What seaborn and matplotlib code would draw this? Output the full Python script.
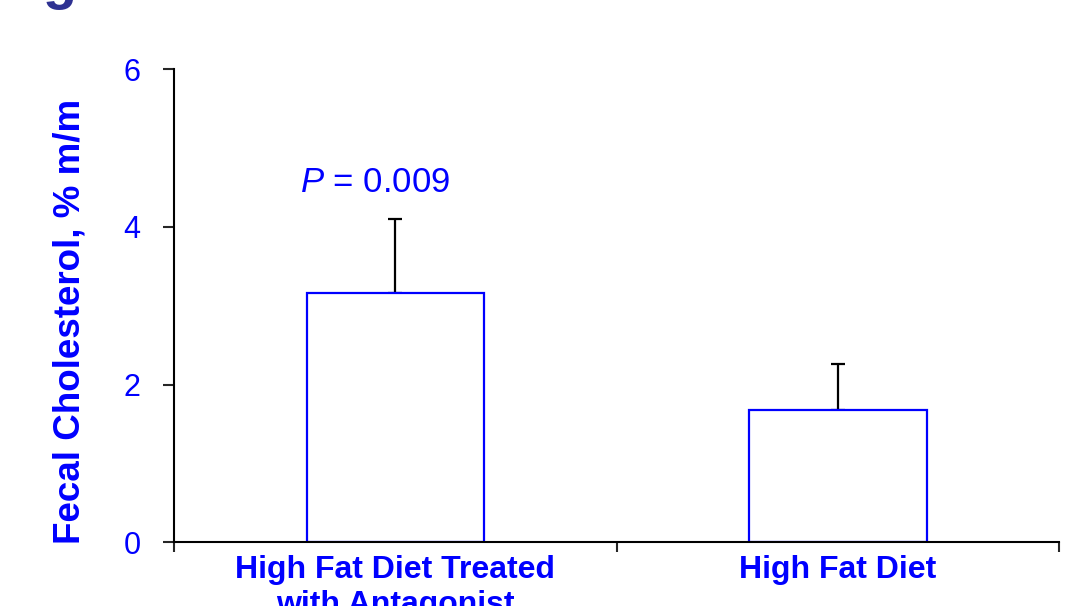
import matplotlib
matplotlib.use("Agg")
import matplotlib.pyplot as plt
import seaborn as sns
import numpy as np
import pandas as pd

groups = ["High Fat Diet Treated\nwith Antagonist", "High Fat Diet"]
cholesterol = [3.16, 1.68]
sem = [0.94, 0.58]
y_ticks = [0, 2, 4, 6]
p_label = "$P$ = 0.009"

BLUE = "#0000ff"

sns.set_style("white")
plt.rcParams["font.family"] = ["Liberation Sans", "DejaVu Sans"]
plt.rcParams["mathtext.fontset"] = "custom"
plt.rcParams["mathtext.rm"] = "Liberation Sans"
plt.rcParams["mathtext.it"] = "Liberation Sans:italic"

df = pd.DataFrame({"group": groups, "value": cholesterol})

fig = plt.figure(figsize=(10.79, 6.06), dpi=100)
ax = fig.add_axes([174 / 1079, 1 - 542.3 / 606, (1059.3 - 174) / 1079, (542.3 - 69.3) / 606])

sns.barplot(data=df, x="group", y="value", color="white", edgecolor=BLUE,
            linewidth=1.6, width=0.4, ax=ax, zorder=2)
ax.errorbar(np.arange(len(groups)), cholesterol, yerr=[np.zeros(len(sem)), sem],
            fmt="none", ecolor="black", elinewidth=1.6, capsize=4.7, capthick=1.6,
            zorder=1)

ax.set_xlim(-0.5, 1.5)
ax.set_ylim(0, 6)
ax.set_yticks(y_ticks)
ax.set_yticklabels([str(t) for t in y_ticks], color=BLUE, fontsize=22)
ax.tick_params(axis="y", direction="out", length=8, width=1.5, pad=16, left=True)

ax.set_xticks([-0.5, 0.5, 1.5])
ax.set_xticklabels(["", "", ""])
ax.set_xticks([0, 1], minor=True)
ax.set_xticklabels(groups, minor=True, color=BLUE, fontsize=23, fontweight="bold")
ax.tick_params(axis="x", which="major", direction="out", length=7, width=1.5, bottom=True)
ax.tick_params(axis="x", which="minor", length=0, pad=9.5)

ax.set_xlabel("")
ax.set_ylabel("Fecal Cholesterol, % m/m", color=BLUE, fontsize=26.5, fontweight="bold")
ax.yaxis.set_label_coords(-0.098, 0.467)

for s in ["top", "right"]:
    ax.spines[s].set_visible(False)
for s in ["left", "bottom"]:
    ax.spines[s].set_color("black")
    ax.spines[s].set_linewidth(1.5)

ax.text(-0.045, 4.44, p_label, color=BLUE, fontsize=25, ha="center", va="baseline")

fig.text(60 / 1079, 1.004, "g", color="#2e3192", fontsize=40, fontweight="bold",
         ha="center", va="baseline")

fig.savefig("out.png", dpi=100)
